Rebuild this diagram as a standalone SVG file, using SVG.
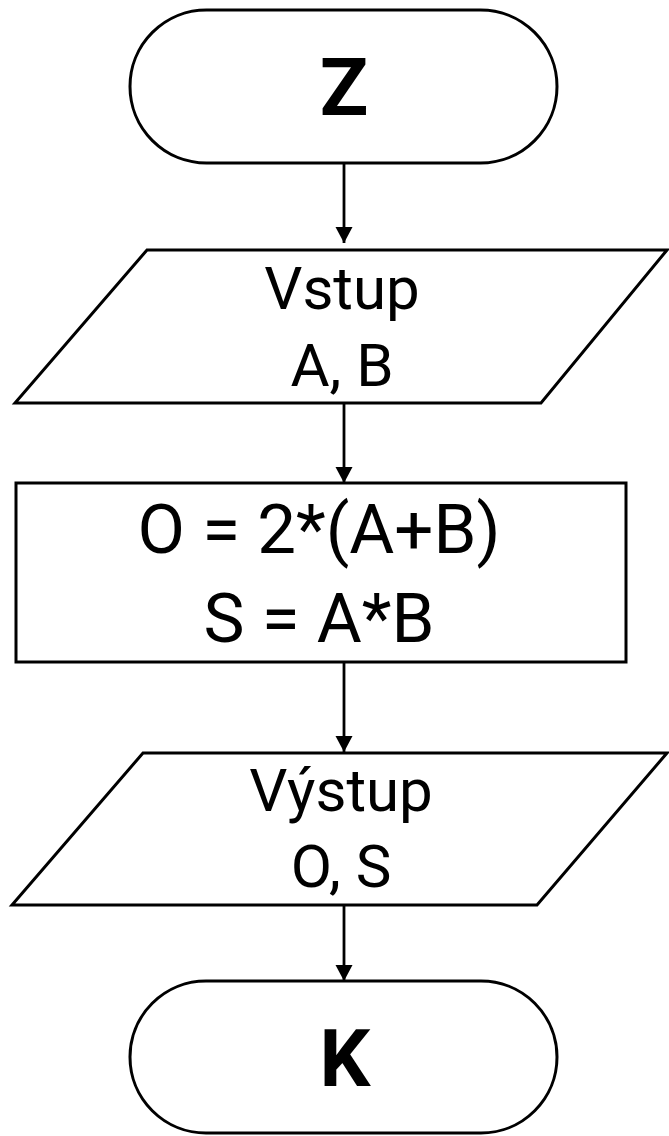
<svg xmlns="http://www.w3.org/2000/svg" width="669" height="1136" viewBox="0 0 669 1136">
  <style>
    .shape { fill: #ffffff; stroke: #000000; stroke-width: 3; stroke-linejoin: miter; }
    .edge { fill: none; stroke: #000000; stroke-width: 2.8; }
    .term { font-family: Roboto, "Liberation Sans", sans-serif; font-weight: bold; font-size: 80px; fill: #000; text-anchor: middle; }
    .io { font-family: Roboto, "Liberation Sans", sans-serif; font-size: 60px; fill: #000; text-anchor: middle; }
    .proc { font-family: Roboto, "Liberation Sans", sans-serif; font-size: 69px; fill: #000; text-anchor: middle; }
  </style>
  <defs>
    <marker id="arrow" markerUnits="userSpaceOnUse" markerWidth="17" markerHeight="18" refX="16" refY="8.5" orient="auto">
      <path d="M0,0 L16,8.5 L0,17 Z" fill="#000000"/>
    </marker>
  </defs>
  <rect width="669" height="1136" fill="#ffffff"/>

  <!-- connectors -->
  <g id="connectors">
    <line class="edge" x1="344" y1="163" x2="344" y2="243" marker-end="url(#arrow)"/>
    <line class="edge" x1="344" y1="403" x2="344" y2="483" marker-end="url(#arrow)"/>
    <line class="edge" x1="344" y1="662" x2="344" y2="752" marker-end="url(#arrow)"/>
    <line class="edge" x1="344" y1="905" x2="344" y2="981" marker-end="url(#arrow)"/>
  </g>

  <!-- start -->
  <g id="start">
    <rect class="shape" x="130" y="10" width="427" height="153" rx="76.5" ry="76.5"/>
    <text class="term" x="344" y="115">Z</text>
  </g>

  <!-- input -->
  <g id="input">
    <polygon class="shape" points="147,250 667,250 541,403 15,403"/>
    <text class="io" x="342" y="309">Vstup</text>
    <text class="io" x="342" y="386">A, B</text>
  </g>

  <!-- computation -->
  <g id="compute">
    <rect class="shape" x="16" y="483" width="610" height="179"/>
    <text class="proc" x="319" y="553">O = 2*(A+B)</text>
    <text class="proc" x="319" y="642">S = A*B</text>
  </g>

  <!-- output -->
  <g id="output">
    <polygon class="shape" points="143,753 667,753 537,905 12,905"/>
    <text class="io" x="341" y="811">Výstup</text>
    <text class="io" x="341" y="887">O, S</text>
  </g>

  <!-- end -->
  <g id="end">
    <rect class="shape" x="130" y="981" width="427" height="152" rx="76" ry="76"/>
    <text class="term" x="345" y="1086">K</text>
  </g>
</svg>
